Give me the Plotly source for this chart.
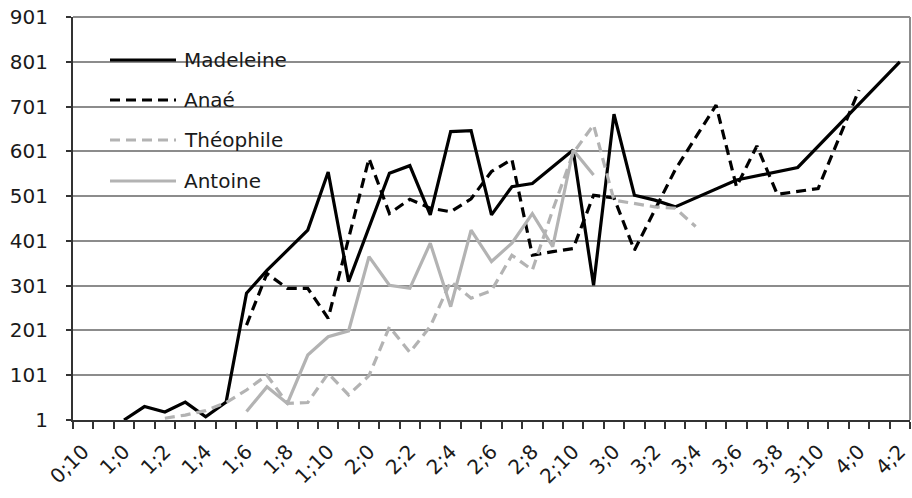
import plotly.graph_objects as go

ages = ["0;10", "0;11", "1;0", "1;1", "1;2", "1;3", "1;4", "1;5", "1;6", "1;7",
        "1;8", "1;9", "1;10", "1;11", "2;0", "2;1", "2;2", "2;3", "2;4", "2;5",
        "2;6", "2;7", "2;8", "2;9", "2;10", "2;11", "3;0", "3;1", "3;2", "3;3",
        "3;4", "3;5", "3;6", "3;7", "3;8", "3;9", "3;10", "3;11", "4;0", "4;1", "4;2"]

N = None
madeleine = [N, N, 1, 31, 19, 41, 8, 41, 284, 335,
             N, 425, 555, 310, 432, 552, 569, 459, 645, 647,
             459, 522, 529, 567, 604, 302, 684, 503, 492, 477,
             N, N, 537, N, N, 565, N, N, N, N, 801]
anae = [N, N, N, N, N, N, N, N, 213, 328,
        295, 295, 228, N, 585, 462, 494, 474, 466, 495,
        556, 583, 369, 377, 384, 503, 497, 380, 470, 560,
        632, 704, 522, 613, 505, 511, 518, N, 738, N, N]
theophile = [N, N, N, N, 5, 12, 22, 40, 68, 101,
             38, 40, 105, 57, 100, 209, 152, 210, 310, 273,
             290, 369, 336, 470, 597, 660, 492, 485, 477, 474,
             433, N, N, N, N, N, N, N, N, N, N]
antoine = [N, N, N, N, N, N, N, N, 20, 75,
           38, 146, 187, 200, 366, 302, 295, 396, 254, 425,
           355, 396, 462, 388, 604, 548, N, N, N, N,
           N, N, N, N, N, N, N, N, N, N, N]

y_ticks = [1, 101, 201, 301, 401, 501, 601, 701, 801, 901]
x_ticktext = [a if i % 2 == 0 else "" for i, a in enumerate(ages)]

BLACK = "#000000"
GRAY = "#b3b3b3"
DASH = "10px,6px"

series = [
    ("Madeleine", madeleine, BLACK, "solid"),
    ("Anaé", anae, BLACK, DASH),
    ("Théophile", theophile, GRAY, DASH),
    ("Antoine", antoine, GRAY, "solid"),
]

fig = go.Figure()
for name, vals, col, dash in series:
    fig.add_trace(go.Scatter(
        x=ages, y=vals, name=name, mode="lines", connectgaps=True,
        line=dict(color=col, width=3.2, dash=dash),
        showlegend=False,
    ))

# body margin is removed in the page (post_script), so the figure fills the window
W, H = 912, 498
L, T = 73, 17                       # plot area at window x=73, y=17
pw, ph = 837, 403                   # plot area to window x=910, y=420
R, B = W - L - pw, H - T - ph


def px(xp):
    """window pixel x -> paper"""
    return (xp - L) / pw


def py(yp):
    """window pixel y -> paper"""
    return (T + ph - yp) / ph


GRID = "#8c8c8c"
shapes = [
    # right and top frame border
    dict(type="line", xref="paper", yref="paper", x0=1, x1=1, y0=0, y1=1,
         line=dict(color=GRID, width=2), layer="above"),
    dict(type="line", xref="paper", yref="paper", x0=0, x1=1, y0=1, y1=1,
         line=dict(color=GRID, width=2), layer="between"),
    # legend background
    dict(type="rect", xref="paper", yref="paper", x0=px(97), x1=px(306),
         y0=py(212), y1=py(27), fillcolor="white", line=dict(width=0),
         layer="between"),
]
annotations = []
leg_y = [60, 100, 140, 181]
for (name, vals, col, dash), ly in zip(series, leg_y):
    shapes.append(dict(type="line", xref="paper", yref="paper",
                       x0=px(110), x1=px(176), y0=py(ly), y1=py(ly),
                       line=dict(color=col, width=3.2, dash=dash), layer="above"))
    annotations.append(dict(xref="paper", yref="paper", x=px(182), y=py(ly),
                            text=name, showarrow=False, xanchor="left",
                            yanchor="middle",
                            font=dict(size=20, color="#1a1a1a",
                                      family="DejaVu Sans")))

fig.update_layout(
    width=W, height=H,
    margin=dict(l=L, r=R, t=T, b=B, autoexpand=False),
    paper_bgcolor="white", plot_bgcolor="white",
    font=dict(family="DejaVu Sans", size=20, color="#1a1a1a"),
    showlegend=False,
    shapes=shapes,
    annotations=annotations,
    xaxis=dict(
        type="category", categoryorder="array", categoryarray=ages,
        range=[-0.5, len(ages) - 0.5], automargin=False,
        tickmode="array", tickvals=ages, ticktext=x_ticktext,
        tickson="boundaries", ticks="outside", ticklen=7, tickwidth=1.5,
        tickcolor="#333333", tickangle=-45, ticklabelstandoff=10,
        ticklabeloverflow="allow",
        showgrid=False, showline=True, linecolor="#333333", linewidth=2,
        zeroline=False, tickfont=dict(size=20, color="#1a1a1a"),
    ),
    yaxis=dict(
        range=[1, 901], tickmode="array", tickvals=y_ticks, automargin=False,
        ticks="outside", ticklen=5, tickwidth=1.5, tickcolor="#333333",
        ticklabeloverflow="allow",
        showgrid=True, gridcolor=GRID, gridwidth=2,
        showline=True, linecolor="#333333", linewidth=2,
        zeroline=False, ticklabelstandoff=14,
        tickfont=dict(size=20, color="#1a1a1a"),
    ),
)

fig.write_html(
    "out.html",
    config={"displayModeBar": False},
    post_script="document.body.style.margin='0px';"
                "document.body.style.overflow='hidden';",
)
